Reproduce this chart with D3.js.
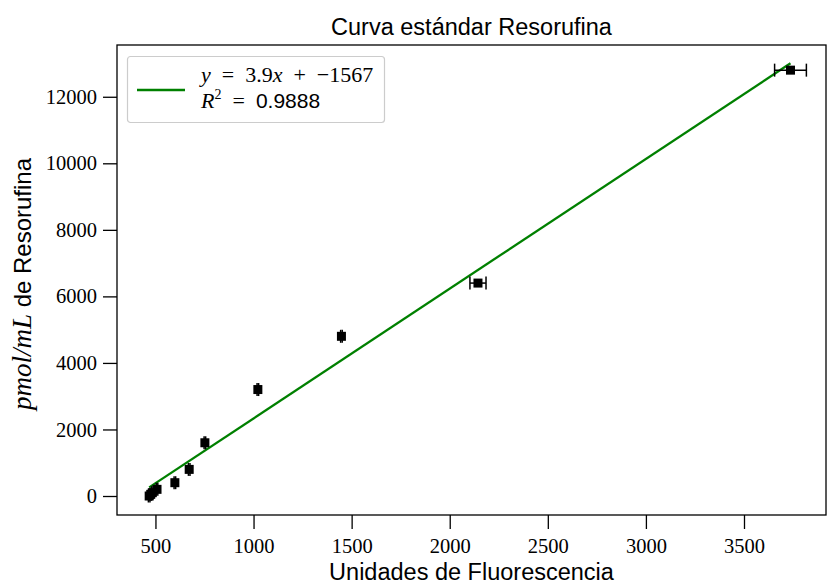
<!DOCTYPE html>
<html>
<head>
<meta charset="utf-8">
<script src="https://cdn.jsdelivr.net/npm/d3@7"></script>
<style>
  html, body { margin: 0; padding: 0; background: #fff; }
  svg { display: block; }
</style>
</head>
<body>
<svg id="chart" width="828" height="585"></svg>
<script>
// Standard curve points: fluorescence units vs. resorufin concentration
const fluorescence = [468, 476, 484, 508, 599, 672, 752, 1022, 1448, 2144, 3737];
const concentration = [0, 50, 100, 200, 400, 800, 1600, 3200, 4800, 6400, 12800];
const fluorescenceErr = [4, 4, 4, 4, 4, 4, 4, 4, 4, 41, 81];

// Linear fit reported in the legend
const slope = 3.9;
const intercept = -1567;
const rSquared = "0.9888";

const xTicks = [500, 1000, 1500, 2000, 2500, 3000, 3500];
const yTicks = [0, 2000, 4000, 6000, 8000, 10000, 12000];

const W = 828, H = 585;
const m = { left: 117, right: 2, top: 45, bottom: 70 };
const plotW = W - m.left - m.right;
const plotH = H - m.top - m.bottom;

const serif = "'Liberation Serif', 'DejaVu Serif', serif";
const sans = "'Liberation Sans', 'DejaVu Sans', sans-serif";

const svg = d3.select("#chart");
const g = svg.append("g").attr("transform", `translate(${m.left},${m.top})`);

const x = d3.scaleLinear().domain([304, 3918]).range([0, plotW]);
const y = d3.scaleLinear().domain([-571, 13556]).range([plotH, 0]);

// Axes
const xAxis = g.append("g")
  .attr("transform", `translate(0,${plotH})`)
  .call(d3.axisBottom(x).tickValues(xTicks).tickSize(14).tickPadding(6).tickFormat(d3.format("d")));
const yAxis = g.append("g")
  .call(d3.axisLeft(y).tickValues(yTicks).tickSize(14).tickPadding(6).tickFormat(d3.format("d")));
[xAxis, yAxis].forEach(a => {
  a.select(".domain").remove();
  a.selectAll(".tick line").attr("stroke", "#000").attr("stroke-width", 1.3);
  a.selectAll(".tick text").attr("font-family", serif).attr("font-size", 20.5).attr("fill", "#000");
});
xAxis.selectAll(".tick text").attr("dy", "0.9em");

// Frame
g.append("rect")
  .attr("width", plotW).attr("height", plotH)
  .attr("fill", "none").attr("stroke", "#000").attr("stroke-width", 1.3);

// Fitted line across the measured range
const xMin = d3.min(fluorescence), xMax = d3.max(fluorescence);
g.append("line")
  .attr("x1", x(xMin)).attr("y1", y(slope * xMin + intercept))
  .attr("x2", x(xMax)).attr("y2", y(slope * xMax + intercept))
  .attr("stroke", "#008000").attr("stroke-width", 2.3);

// Points with horizontal error bars
const pts = fluorescence.map((f, i) => ({ f, c: concentration[i], e: fluorescenceErr[i] }));
const eb = g.append("g").attr("stroke", "#000").attr("stroke-width", 1.5);
pts.forEach(p => {
  const cy = y(p.c);
  eb.append("line").attr("x1", x(p.f - p.e)).attr("x2", x(p.f + p.e)).attr("y1", cy).attr("y2", cy);
  [p.f - p.e, p.f + p.e].forEach(v => {
    eb.append("line").attr("x1", x(v)).attr("x2", x(v)).attr("y1", cy - 6.5).attr("y2", cy + 6.5);
  });
});
const ms = 9;
g.append("g").selectAll("rect").data(pts).join("rect")
  .attr("x", d => x(d.f) - ms / 2).attr("y", d => y(d.c) - ms / 2)
  .attr("width", ms).attr("height", ms).attr("fill", "#000");

// Legend
const lg = svg.append("g").attr("transform", "translate(127,56)");
lg.append("rect").attr("x", 0.5).attr("y", 0.5).attr("width", 257).attr("height", 66)
  .attr("rx", 3).attr("fill", "#fff").attr("fill-opacity", 0.8)
  .attr("stroke", "#cccccc").attr("stroke-width", 1.2);
lg.append("line").attr("x1", 10).attr("x2", 58).attr("y1", 34).attr("y2", 34)
  .attr("stroke", "#008000").attr("stroke-width", 2.3);
const sp = "\u2002";
const t1 = lg.append("text").attr("x", 74).attr("y", 26).attr("font-family", serif).attr("font-size", 22).attr("fill", "#000");
t1.append("tspan").attr("font-style", "italic").text("y");
t1.append("tspan").text(`${sp}=${sp}3.9`);
t1.append("tspan").attr("font-style", "italic").text("x");
t1.append("tspan").text(`${sp}+${sp}\u22121567`);
const t2 = lg.append("text").attr("x", 74).attr("y", 52).attr("font-family", serif).attr("font-size", 22).attr("fill", "#000");
t2.append("tspan").attr("font-style", "italic").text("R");
t2.append("tspan").attr("font-size", 14).attr("dy", -9).text("2");
t2.append("tspan").attr("dy", 9).text(`${sp}=${sp}`);
t2.append("tspan").attr("font-family", sans).attr("font-size", 21).text(rSquared);

// Title and axis labels
svg.append("text").attr("x", m.left + plotW / 2).attr("y", 35)
  .attr("text-anchor", "middle").attr("font-family", sans).attr("font-size", 23.5).attr("fill", "#000")
  .text("Curva estándar Resorufina");
svg.append("text").attr("x", m.left + plotW / 2).attr("y", 580)
  .attr("text-anchor", "middle").attr("font-family", sans).attr("font-size", 23.5).attr("fill", "#000")
  .text("Unidades de Fluorescencia");
const yl = svg.append("text")
  .attr("transform", `translate(31,${m.top + plotH / 2 + 4}) rotate(-90)`)
  .attr("text-anchor", "middle").attr("font-size", 24).attr("fill", "#000");
yl.append("tspan").attr("font-family", serif).attr("font-style", "italic").attr("font-size", 27).text("pmol/mL");
yl.append("tspan").attr("font-family", sans).text(" de Resorufina");
</script>
</body>
</html>
